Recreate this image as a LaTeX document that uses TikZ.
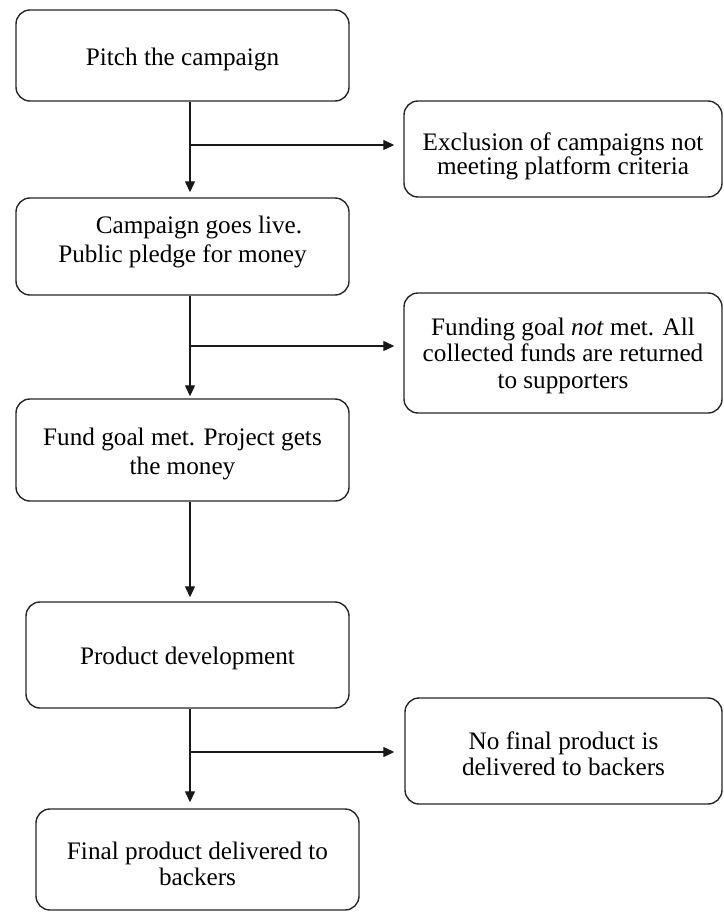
\documentclass[tikz,border=0pt]{standalone}
\usepackage{fontspec}
\setmainfont{Liberation Serif}
\usetikzlibrary{arrows.meta}
\begin{document}
\begin{tikzpicture}[x=1pt,y=-1pt,
  box/.style 2 args={draw=black!85, line width=1.4pt, rounded corners=14pt,
    minimum width=#1, minimum height=#2, inner sep=0pt, align=center,
    font=\fontsize{25.2}{29}\selectfont},
  ls/.style={font=\fontsize{25.2}{#1}\selectfont},
  hd/.style 2 args={text height=#1pt, text depth=#2pt},
  arr/.style={line width=1.3pt, draw=black!90, -{Triangle[width=10pt,length=11pt]}}
]
\useasboundingbox (0,0) rectangle (723,912);

\node[box={333}{91}, hd={21}{0}] (b1) at (182.5,55.5) {Pitch the campaign};
\node[box={318}{96}, ls=23, hd={52}{0}] (b2) at (563,149) {Exclusion of campaigns not\\meeting platform criteria};
\node[box={333}{97}, ls=29, hd={31}{0}] (b3) at (182.5,246.5) {\hspace*{33pt}Campaign goes live.\\Public pledge for money};
\node[box={318}{120}, ls=26.5, hd={70}{0}] (b4) at (563,353) {Funding goal \textit{not} met. All\\collected funds are returned\\to supporters};
\node[box={333}{102}, ls=29, hd={48}{0}] (b5) at (182.5,450) {Fund goal met. Project gets\\the money};
\node[box={323}{106}, hd={18}{0}] (b6) at (187.5,655) {Product development};
\node[box={317}{106}, ls=26, hd={48}{0}] (b7) at (563.5,751) {No final product is\\delivered to backers};
\node[box={323}{101}, ls=26, hd={51}{0}] (b8) at (197.5,859.5) {Final product delivered to\\backers};

\coordinate (vx) at (190,0);
\coordinate (j1) at (190,145);
\coordinate (j2) at (190,346);
\coordinate (j3) at (190,752);

\draw[arr, shorten >=5pt] (b1.south -| vx) -- (b3.north -| vx);
\draw[arr, shorten >=2pt] (b3.south -| vx) -- (b5.north -| vx);
\draw[arr, shorten >=4pt] (b5.south -| vx) -- (b6.north -| vx);
\draw[arr, shorten >=6pt] (b6.south -| vx) -- (b8.north -| vx);

\draw[arr, shorten >=9pt] (j1) -- (j1 -| b2.west);
\draw[arr, shorten >=9pt] (j2) -- (j2 -| b4.west);
\draw[arr, shorten >=10pt] (j3) -- (j3 -| b7.west);
\end{tikzpicture}
\end{document}
